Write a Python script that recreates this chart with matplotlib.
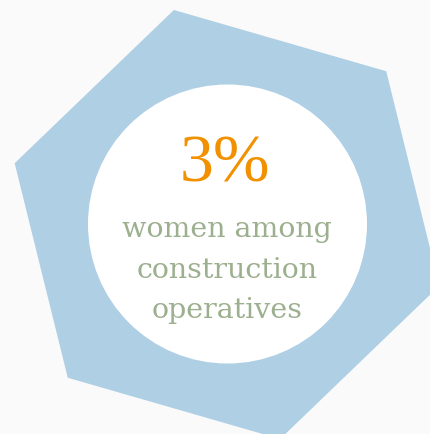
import matplotlib.pyplot as plt
from matplotlib.patches import RegularPolygon, Circle
import numpy as np

# chart content
value_text = "3%"
label_lines = ["women among", "construction", "operatives"]

bg_color = "#fafafa"
hex_color = "#afcfe5"
orange = "#f29100"
sage = "#9caf8e"

fig = plt.figure(figsize=(4.3, 4.34), dpi=100)
fig.patch.set_facecolor(bg_color)
ax = fig.add_axes([0, 0, 1, 1])
ax.set_xlim(0, 430)
ax.set_ylim(434, 0)
ax.set_aspect("equal")
ax.axis("off")

# tilted hexagon behind the circle
cx, cy = 227, 224.5
hexa = RegularPolygon((cx, cy), numVertices=6, radius=221,
                      orientation=np.deg2rad(166.1), facecolor=hex_color,
                      edgecolor="none")
ax.add_patch(hexa)
ax.add_patch(Circle((227.5, 224), 139.5, facecolor="white", edgecolor="none"))

ax.text(225, 182, value_text, ha="center", va="baseline", fontsize=49,
        color=orange, family="Liberation Serif")
baselines = [237, 278, 318]
for line, yb in zip(label_lines, baselines):
    ax.text(227, yb, line, ha="center", va="baseline", fontsize=20.5,
            color=sage, family="DejaVu Serif")

fig.savefig("out.png", dpi=100, facecolor=bg_color)
